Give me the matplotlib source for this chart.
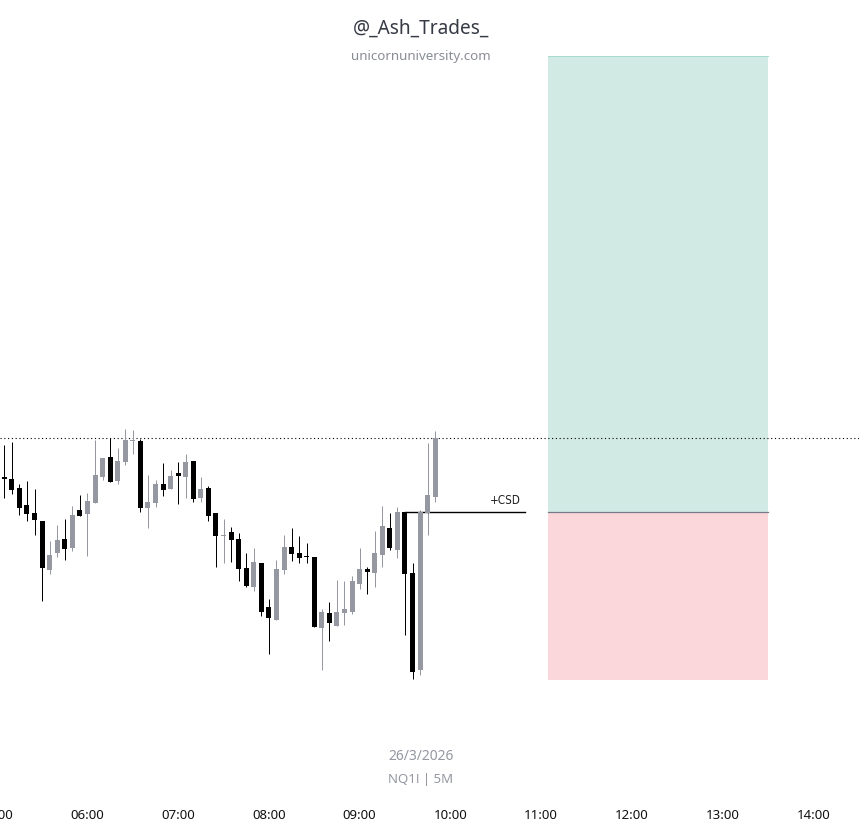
import matplotlib
matplotlib.use("Agg")
import matplotlib.pyplot as plt
from matplotlib.patches import Rectangle

# 5 minute candles, first one is 05:05. Price scale is arbitrary (no axis on the chart)
opens = [350, 348, 339, 322, 314, 306, 257, 274, 288, 279, 317, 313, 324, 350, 370, 346, 365, 386, 386, 319,
         324, 343, 338, 354, 350, 366, 329, 339, 314, 291, 295, 288, 259, 240, 264, 220, 207, 257, 280, 274,
         271, 270, 199, 214, 201, 214, 215, 243, 258, 254, 272, 299, 277, 315, 254, 157, 314, 330]
highs = [382, 385, 343, 346, 338, 306, 286, 302, 308, 321, 332, 334, 387, 369, 389, 379, 398, 397, 388, 352,
         347, 364, 357, 365, 373, 366, 350, 341, 314, 308, 300, 294, 274, 279, 264, 228, 267, 292, 299, 291,
         284, 270, 218, 225, 247, 246, 251, 279, 260, 296, 321, 314, 320, 315, 264, 317, 384, 396]
lows = [329, 333, 312, 306, 292, 226, 253, 270, 267, 276, 311, 271, 324, 347, 345, 343, 362, 373, 315, 299,
        320, 331, 338, 323, 329, 325, 325, 306, 260, 264, 265, 246, 240, 236, 211, 173, 207, 253, 266, 264,
        264, 200, 157, 186, 201, 202, 213, 238, 233, 240, 260, 277, 269, 192, 148, 152, 292, 325]
closes = [348, 337, 319, 313, 307, 259, 272, 287, 278, 312, 311, 326, 352, 369, 345, 366, 387, 387, 319, 325,
          343, 337, 351, 351, 365, 328, 338, 311, 291, 292, 287, 258, 241, 265, 215, 209, 258, 280, 273, 269,
          270, 200, 215, 204, 215, 218, 246, 258, 255, 274, 301, 279, 315, 253, 155, 315, 332, 389]

hour_ticks = [-1, 11, 23, 35, 47, 59, 71, 83, 95, 107]
hour_labels = ["05:00", "06:00", "07:00", "08:00", "09:00", "10:00", "11:00", "12:00", "13:00", "14:00"]

high_level = 388.7
csd_level = 314.8
csd_start, csd_end = 53, 68.9
box_start, box_end = 71.88, 101
target, stop = 771, 147

UP = "#9598a1"
DOWN = "#000000"
FONT = "Noto Sans"

fig = plt.figure(figsize=(8.59, 8.27), dpi=100)
ax = fig.add_axes([0, 27 / 827, 1, 800 / 827])

# positions and trade boxes
ax.add_patch(Rectangle((box_start, csd_level), box_end - box_start, target - csd_level, fc="#d1ebe4", ec="none", zorder=1))
ax.add_patch(Rectangle((box_start, stop), box_end - box_start, csd_level - stop, fc="#fbd6da", ec="none", zorder=1))
ax.plot([box_start, box_end], [target, target], color="#a5dccd", lw=0.72, zorder=2)
ax.plot([box_start, box_end], [csd_level, csd_level], color="#787b86", lw=0.9, zorder=2)

ax.axhline(high_level, color="black", lw=0.8, ls=(0, (1, 2.4)), zorder=2)

for i in range(len(opens)):
    color = UP if closes[i] > opens[i] else DOWN
    ax.plot([i, i], [lows[i], highs[i]], color=color, lw=0.72, solid_capstyle="butt", zorder=3)
    bottom = min(opens[i], closes[i])
    ax.bar(i, abs(closes[i] - opens[i]), bottom=bottom, width=0.66, color=color, lw=0, zorder=4)

ax.plot([csd_start, csd_end], [csd_level, csd_level], color="black", lw=1.0, zorder=3)
ax.text(csd_end - 0.55, csd_level + 5, "+CSD", ha="right", va="bottom", fontsize=8.4,
        family="DejaVu Sans", stretch="condensed", color="#222222")

ax.set_yticks([])
ax.set_xticks(hour_ticks[1:])
ax.set_xticklabels(hour_labels[1:], fontsize=9.5, family=FONT, color="#111111", fontweight="medium")
ax.tick_params(axis="x", length=0, pad=6.5)
ax.set_xlim(-4.3 / 7.56, (859 - 4.3) / 7.56)
ax.set_ylim(27, 827)
for s in ax.spines.values():
    s.set_visible(False)

# 05:00 sits just off the left edge so matplotlib drops its tick, the label is still half visible
ax.annotate(hour_labels[0], xy=(hour_ticks[0], 0), xycoords=ax.get_xaxis_transform(), xytext=(0, -6.5),
            textcoords="offset points", ha="center", va="top", fontsize=9.5, family=FONT,
            color="#111111", fontweight="medium", annotation_clip=False)

fig.text(421 / 859, 1 - 28.5 / 827, "@_Ash_Trades_", ha="center", va="center", fontsize=13.7, family=FONT, color="#363a45")
fig.text(421 / 859, 1 - 56.5 / 827, "unicornuniversity.com", ha="center", va="center", fontsize=9.6, family=FONT, color="#8a8d96")
fig.text(421 / 859, 1 - 756 / 827, "26/3/2026", ha="center", va="center", fontsize=10, family=FONT, color="#9598a1")
fig.text(421 / 859, 1 - 779.5 / 827, "NQ1! | 5M", ha="center", va="center", fontsize=9.5, family=FONT, color="#9598a1")

fig.savefig("out.png", dpi=100)
